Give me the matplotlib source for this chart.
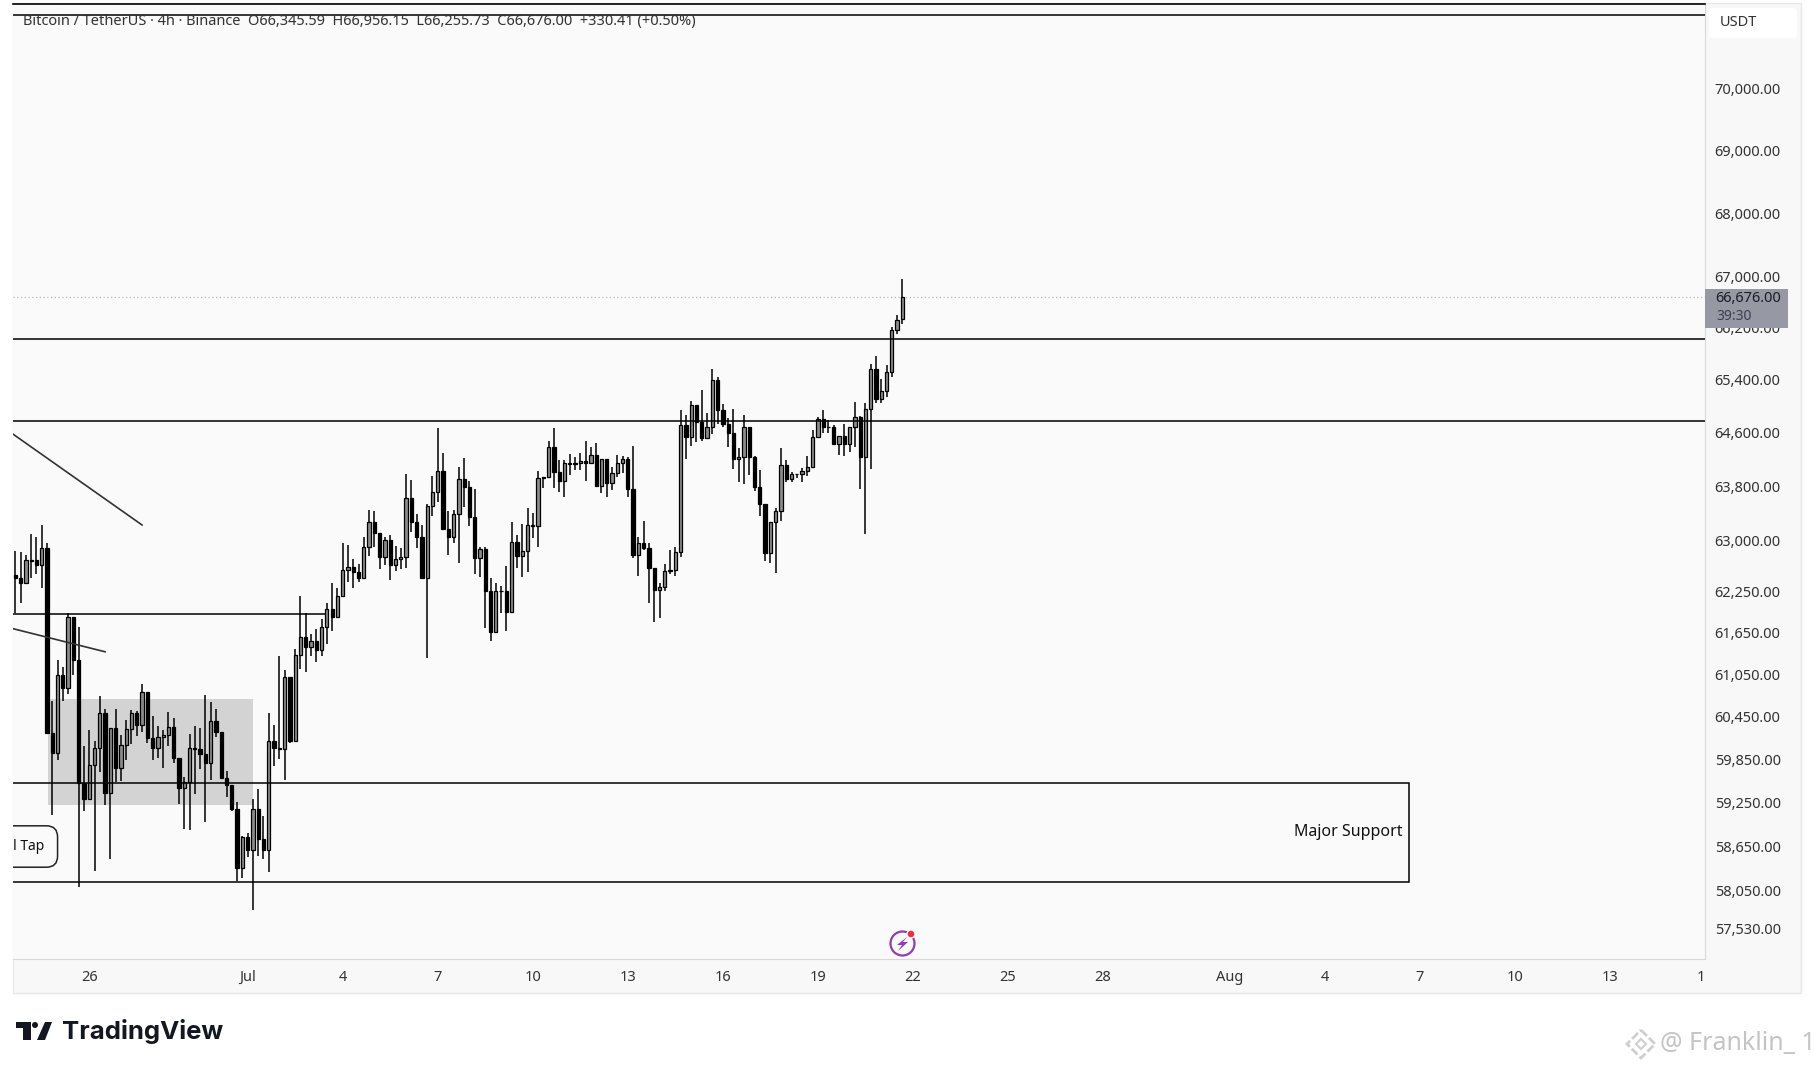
import pandas as pd
import matplotlib
matplotlib.use('Agg')
import matplotlib.pyplot as plt
import matplotlib.dates as mdates
from matplotlib.patches import Rectangle, Circle, Polygon, FancyBboxPatch
from matplotlib.transforms import Bbox

plt.rcParams['font.family'] = ['Noto Sans', 'DejaVu Sans']

# 4h candles, Binance BTCUSDT
first_candle = '2024-06-23 16:00'
opens = [62490, 62450, 62370, 62690, 62700, 62630, 62890, 60220, 59940, 61050,
         60855, 61880, 61260, 59530, 59300, 59770, 60010, 60500, 59380, 60300,
         59730, 60060, 60275, 60510, 60330, 60810, 60150, 60010, 60170, 60190,
         60310, 59870, 59450, 59540, 60020, 60000, 59925, 59800, 60395, 60235,
         59600, 59490, 59160, 58350, 58780, 58600, 59170, 58745, 58600, 60115,
         60010, 60000, 61020, 60115, 61325, 61585, 61450, 61525, 61400, 61730,
         61990, 61880, 62175, 62555, 62600, 62535, 62450, 62905, 63260, 63110,
         62745, 62995, 62630, 62715, 62745, 63615, 63260, 63050, 62450, 63510,
         63705, 64020, 63160, 63050, 63380, 63900, 63790, 63335, 62730, 62865,
         62260, 61665, 62250, 62260, 61945, 62965, 62765, 62835, 63215, 63200,
         63915, 63930, 64390, 64005, 63880, 64140, 64135, 64140, 64170, 64140,
         64260, 63800, 64200, 63850, 63990, 64140, 64200, 63755, 62775, 62950,
         62880, 62585, 62270, 62310, 62540, 62555, 62820, 64715, 64540, 65015,
         64755, 64515, 64690, 65400, 64950, 64730, 64590, 64210, 64230, 64680,
         64240, 63790, 63540, 62805, 63270, 63425, 64120, 63900, 63985, 63975,
         64030, 64090, 64530, 64800, 64680, 64680, 64430, 64555, 64430, 64690,
         64840, 64240, 64960, 65565, 65105, 65225, 65525, 66165, 66345.59]
highs = [62840, 62830, 62780, 63090, 63050, 63220, 62950, 60670, 61260, 61165,
         61940, 61880, 61740, 60040, 60260, 60110, 60740, 60560, 60300, 60560,
         60200, 60400, 60550, 60540, 60915, 60810, 60460, 60320, 60265, 60515,
         60430, 59880, 59610, 60210, 60320, 60290, 60760, 60665, 60560, 60235,
         59695, 59490, 59265, 58790, 58835, 59300, 59440, 59065, 60510, 60335,
         61315, 61110, 61020, 61410, 62180, 61940, 61635, 61700, 61845, 62085,
         62375, 62300, 62950, 62925, 62720, 62650, 63050, 63445, 63430, 63110,
         63040, 63075, 62910, 62880, 63980, 63890, 63385, 63220, 63530, 63950,
         64665, 64300, 63435, 63445, 64090, 64225, 63880, 63750, 62900, 62895,
         62440, 62365, 62325, 62625, 63270, 63075, 63235, 63475, 63405, 64030,
         63930, 64480, 64670, 64190, 64190, 64280, 64240, 64290, 64480, 64380,
         64440, 64200, 64200, 64080, 64260, 64250, 64230, 64400, 63040, 63285,
         62960, 62585, 62365, 62650, 62855, 62900, 64940, 64865, 65085, 65015,
         65245, 64900, 65570, 65440, 65035, 64815, 64965, 64365, 64865, 64680,
         64245, 64040, 63540, 63270, 63480, 64365, 64190, 64010, 63985, 64065,
         64250, 64640, 64840, 64940, 64790, 64715, 64555, 64730, 64690, 65070,
         64850, 65045, 65645, 65765, 65415, 65630, 66220, 66400, 66956.15]
lows = [61930, 62080, 62370, 62440, 62500, 62300, 60220, 59080, 59840, 60670,
        60770, 61045, 58100, 59130, 59300, 58320, 59680, 59220, 58480, 59540,
        59550, 59850, 60070, 60180, 60240, 60080, 59840, 59870, 59740, 60040,
        59800, 59240, 58890, 58880, 59370, 59725, 58985, 59565, 60170, 59600,
        59335, 59140, 58180, 58215, 58500, 57785, 58520, 58480, 58305, 59760,
        59855, 59565, 60090, 60115, 61125, 61095, 61315, 61235, 61315, 61490,
        61680, 61880, 62175, 62390, 62300, 62390, 62450, 62765, 62900, 62575,
        62635, 62415, 62550, 62570, 62585, 63125, 62880, 62450, 61285, 63355,
        63565, 63160, 62780, 62960, 62660, 63495, 63200, 62500, 62460, 61725,
        61525, 61665, 61930, 61680, 61945, 62585, 62455, 62535, 63030, 62900,
        63765, 63930, 63770, 63710, 63640, 63965, 64040, 64040, 63880, 64140,
        63800, 63690, 63630, 63740, 63940, 64000, 63640, 62730, 62480, 62860,
        62075, 61805, 61870, 62260, 62500, 62480, 62755, 64210, 64400, 64465,
        64480, 64515, 64580, 64730, 64680, 64380, 64060, 63865, 63825, 63965,
        63730, 63360, 62695, 62660, 62520, 63285, 63865, 63855, 63915, 63865,
        63950, 64080, 64530, 64590, 64590, 64420, 64265, 64250, 64315, 64390,
        63750, 63085, 64060, 65045, 65045, 65135, 65445, 66105, 66255.73]
closes = [62450, 62370, 62700, 62710, 62630, 62890, 60220, 59940, 61050, 60855,
          61880, 61260, 59530, 59300, 59770, 60010, 60500, 59380, 60300, 59730,
          60060, 60275, 60510, 60330, 60810, 60150, 60010, 60170, 60190, 60310,
          59870, 59450, 59540, 60020, 60000, 59925, 59800, 60395, 60235, 59600,
          59490, 59160, 58350, 58780, 58600, 59170, 58745, 58600, 60115, 60010,
          60000, 61020, 60115, 61325, 61585, 61450, 61525, 61400, 61730, 61990,
          61880, 62175, 62555, 62600, 62535, 62450, 62905, 63260, 63110, 62745,
          62995, 62630, 62715, 62745, 63615, 63260, 63050, 62450, 63510, 63705,
          64020, 63160, 63050, 63380, 63900, 63790, 63335, 62730, 62865, 62260,
          61665, 62250, 62260, 61945, 62965, 62765, 62835, 63215, 63200, 63915,
          63930, 64390, 64005, 63880, 64140, 64135, 64140, 64170, 64140, 64260,
          63800, 64200, 63850, 63990, 64140, 64200, 63755, 62775, 62950, 62880,
          62585, 62270, 62310, 62540, 62555, 62820, 64715, 64540, 65015, 64755,
          64515, 64690, 65400, 64950, 64730, 64590, 64210, 64230, 64680, 64240,
          63790, 63540, 62805, 63270, 63425, 64120, 63900, 63985, 63975, 64030,
          64090, 64530, 64800, 64680, 64680, 64430, 64555, 64430, 64690, 64840,
          64240, 64960, 65565, 65105, 65225, 65525, 66165, 66320, 66676]

# price scale labels
price_ticks = [70000, 69000, 68000, 67000, 66200, 65400, 64600, 63800, 63000, 62250,
               61650, 61050, 60450, 59850, 59250, 58650, 58050, 57530]
date_ticks = ['2024-06-26', '2024-07-01', '2024-07-04', '2024-07-07', '2024-07-10', '2024-07-13',
              '2024-07-16', '2024-07-19', '2024-07-22', '2024-07-25', '2024-07-28', '2024-08-01',
              '2024-08-04', '2024-08-07', '2024-08-10', '2024-08-13', '2024-08-16']
date_labels = ['26', 'Jul', '4', '7', '10', '13', '16', '19', '22', '25', '28', 'Aug', '4', '7', '10', '13', '16']

# drawings on the chart
full_levels = [71220, 66025, 64772]
short_level = 61917
short_level_end = '2024-07-03 11:00'
support_top, support_bottom = 59520, 58167
support_end = '2024-08-06 15:50'
range_top, range_bottom = 60704, 59219
range_start, range_end = '2024-06-24 17:00', '2024-07-01 03:50'
trend1_dates, trend1_prices = ['2024-06-23 12:00', '2024-06-27 16:00'], [64610, 63222]
trend2_dates, trend2_prices = ['2024-06-23 12:00', '2024-06-26 12:00'], [61720, 61377]
last_price = 66676
y_limits = (57127, 71412)

dates = pd.date_range(first_candle, periods=len(opens), freq='4h')
x = mdates.date2num(dates)
step = 1 / 6

fig = plt.figure(figsize=(18.14, 10.69), dpi=100, facecolor='white')
W, H = 1814, 1069

# panels behind the chart, in pixels
back = fig.add_axes([0, 0, 1, 1], zorder=0)
back.set_xlim(0, W)
back.set_ylim(H, 0)
back.axis('off')
back.add_patch(Rectangle((13, 3), 1788, 990, fc='#f8f8f8', ec='#e8e8e8', lw=1))
back.add_patch(FancyBboxPatch((1711, 10), 84, 26, boxstyle='round,pad=2,rounding_size=4', fc='white', ec='none'))
back.text(1720, 22, 'USDT', fontsize=10.5, color='#333333', va='center')

ax = fig.add_axes([13 / W, 1 - 959 / H, (1705 - 13) / W, (959 - 3.5) / H], zorder=1)
ax.set_facecolor('#fafafa')
ax.set_yscale('log')
ax.set_ylim(*y_limits)
ax.set_xlim(x[0] - 0.44 * step, x[0] + 320 * step)

ax.add_patch(Rectangle((mdates.datestr2num(range_start), range_bottom),
                       mdates.datestr2num(range_end) - mdates.datestr2num(range_start),
                       range_top - range_bottom, fc='#d3d3d3', ec='none', zorder=1))

# candles
bull = [c >= o for o, c in zip(opens, closes)]
body_low = [min(o, c) for o, c in zip(opens, closes)]
body_high = [max(o, c) for o, c in zip(opens, closes)]
ax.vlines(x, lows, highs, color='black', lw=1.1, zorder=2)
ax.bar(x, [t - b for t, b in zip(body_high, body_low)], bottom=body_low, width=0.62 * step,
       color=['#8c8c8c' if b else 'black' for b in bull], edgecolor='black', linewidth=0.9, zorder=3)

# levels and drawings
ax.hlines(full_levels, ax.get_xlim()[0], ax.get_xlim()[1], color='black', lw=1.1, zorder=4)
ax.hlines(short_level, ax.get_xlim()[0], mdates.datestr2num(short_level_end), color='black', lw=1.1, zorder=4)
ax.axhline(last_price, color='#b5b5b5', lw=0.9, ls=(0, (1, 2)), zorder=1)
left = ax.get_xlim()[0] - 2
ax.add_patch(Rectangle((left, support_bottom), mdates.datestr2num(support_end) - left,
                       support_top - support_bottom, fc='none', ec='black', lw=1.1, zorder=4))
ax.plot(mdates.datestr2num(trend1_dates), trend1_prices, color='#333333', lw=1.2, zorder=4)
ax.plot(mdates.datestr2num(trend2_dates), trend2_prices, color='#333333', lw=1.2, zorder=4)
ax.text(mdates.datestr2num('2024-08-06 11:00'), 58850, 'Major Support', ha='right', va='center',
        fontsize=11.5, fontweight='bold', color='#111111', zorder=5)
ax.text(mdates.datestr2num('2024-06-24 14:00'), 58648, 'Final Tap', ha='right', va='center', fontsize=10,
        fontweight='semibold', color='#111111', clip_on=True, zorder=5,
        bbox=dict(boxstyle='round,pad=0.95,rounding_size=0.8', fc='#fafafa', ec='#222222', lw=1.1))

# axes
for name in ['left']:
    ax.spines[name].set_visible(False)
ax.spines['top'].set_color('black')
ax.spines['top'].set_linewidth(1.2)
ax.spines['right'].set_color('#d8d8d8')
ax.spines['bottom'].set_color('#d8d8d8')
ax.yaxis.tick_right()
ax.minorticks_off()
ax.set_yticks(price_ticks)
ax.set_yticklabels(['{:,.2f}'.format(p) for p in price_ticks])
ax.tick_params(axis='y', length=0, pad=7, labelsize=10.5, labelcolor='#333333', which='both')
ax.yaxis.set_minor_locator(matplotlib.ticker.NullLocator())
ax.set_xticks(mdates.datestr2num(date_ticks))
ax.set_xticklabels(date_labels)
ax.tick_params(axis='x', length=0, pad=8, labelsize=10.5, labelcolor='#333333')
for lab in ax.get_xticklabels():
    if lab.get_text() in ('Jul', 'Aug'):
        lab.set_fontweight('bold')
# the last date is cut by the price scale
last_lab = ax.get_xticklabels()[-1]
last_lab.set_clip_box(Bbox([[0, 0], [1705, H]]))
last_lab.set_clip_on(True)

# overlay in pixels
top = fig.add_axes([0, 0, 1, 1], zorder=5)
top.set_xlim(0, W)
top.set_ylim(H, 0)
top.axis('off')
top.patch.set_alpha(0)

top.text(23, 22, 'Bitcoin / TetherUS · 4h · Binance  O66,345.59  H66,956.15  L66,255.73  C66,676.00  +330.41 (+0.50%)',
         fontsize=10.5, color='#333333', va='center')

# last price box
top.add_patch(Rectangle((1705, 289), 83, 39, fc='#9699a3', ec='none'))
top.text(1715, 299, '66,676.00', fontsize=10.5, color='#1c1c28', va='center')
top.text(1716, 317, '39:30', fontsize=10, color='#3d3f52', va='center')

# TradingView logo
top.add_patch(Polygon([(16, 1022), (31, 1022), (31, 1040), (23, 1040), (23, 1028), (16, 1028)], fc='#131722', ec='none'))
top.add_patch(Circle((35, 1025), 3, fc='#131722', ec='none'))
top.add_patch(Polygon([(45, 1022), (52, 1022), (45, 1040), (37, 1040)], fc='#131722', ec='none'))
top.text(62, 1031, 'TradingView', fontsize=18.5, fontfamily='Inter', fontweight='bold', color='#131722', va='center')

# lightning icon
top.add_patch(Circle((902.5, 943.5), 12, fc='none', ec='#8e3fb0', lw=1.6))
top.add_patch(Polygon([(907, 937), (897, 945), (902, 945), (898, 951), (908, 942), (903, 942)], fc='#8e3fb0', ec='none'))
top.add_patch(Circle((911, 934), 4, fc='#ee2f3c', ec='white', lw=1))

# watermark
wm = '#cfcfcf'
top.add_patch(Polygon([(1641, 1030), (1655, 1044), (1641, 1058), (1627, 1044)], fc='none', ec=wm, lw=2, ls=(0, (3, 1))))
top.add_patch(Polygon([(1641, 1039), (1646, 1044), (1641, 1049), (1636, 1044)], fc='none', ec=wm, lw=1.5))
top.text(1660, 1044, '@ Franklin_ 1', fontsize=18, color='#c4c4c4', va='center', clip_on=True)

fig.savefig('out.png', dpi=100)
